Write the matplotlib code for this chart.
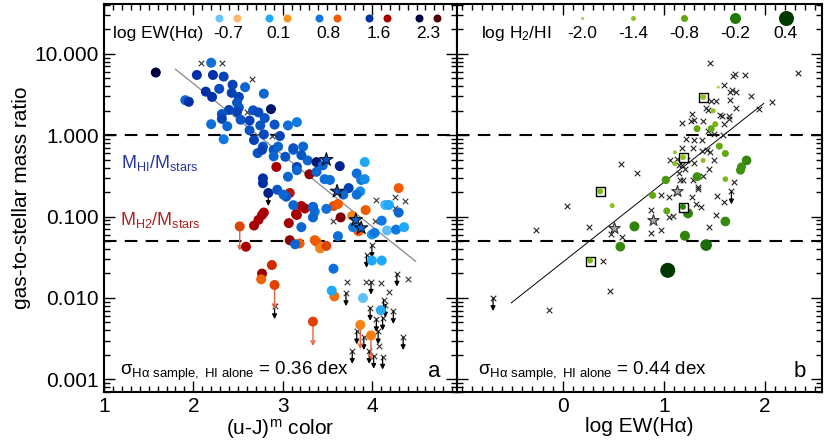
import numpy as np
import matplotlib
matplotlib.use("Agg")
import matplotlib.pyplot as plt
from matplotlib.ticker import FixedLocator, MultipleLocator, LogLocator, NullFormatter

plt.rcParams['font.family'] = ['Liberation Sans', 'DejaVu Sans']
plt.rcParams['mathtext.fontset'] = 'custom'
plt.rcParams['mathtext.rm'] = 'Liberation Sans'
plt.rcParams['mathtext.it'] = 'Liberation Sans:italic'

# ---------------- panel a data: (u-J) colour, log gas/stars, log EW(Ha)
hi_color = [1.58, 2.20, 2.04, 2.22, 2.34, 2.44, 2.58, 2.14, 2.29, 2.21, 2.43, 2.51, 2.79, 1.91, 1.95,
            2.49, 2.51, 2.40, 2.32, 2.49, 2.67, 2.73, 2.87, 2.80, 2.63, 2.53, 2.32, 2.20, 2.38, 2.75,
            2.91, 3.06, 3.16, 2.34, 2.63, 2.68, 2.79, 2.97, 2.78, 2.90, 2.95, 2.72, 2.77, 2.90, 3.03,
            3.12, 3.16, 3.06, 2.78, 2.78, 2.84, 2.94, 3.04, 3.01, 3.34, 3.36,
            3.12, 3.23, 3.21, 3.28, 3.38, 3.45, 3.64, 3.92, 3.83, 3.88, 3.92, 3.16, 3.38, 3.47,
            3.53, 3.74, 3.68, 3.87, 3.83, 4.15, 4.19, 4.30, 4.11, 3.12, 3.34, 3.49, 3.34, 3.79,
            4.17, 4.27, 4.36, 4.00, 4.03, 3.62, 3.21, 4.11, 4.00, 3.14, 3.57, 3.55, 3.90, 4.10]
hi_logr = [0.77, 0.89, 0.74, 0.74, 0.72, 0.62, 0.59, 0.535, 0.57, 0.47, 0.52, 0.47, 0.51, 0.43, 0.41,
           0.40, 0.34, 0.31, 0.26, 0.285, 0.306, 0.28, 0.32, 0.21, 0.18, 0.19, 0.20, 0.135, 0.11, 0.12,
           0.13, 0.12, 0.16, -0.05, 0.06, -0.06, 0.01, -0.01, -0.14, -0.18, -0.14, -0.22, -0.18, -0.26, -0.265,
           -0.18, -0.39, -0.51, -0.53, -0.59, -0.71, -0.67, -0.755, -0.73, -0.88, -0.94,
           -0.16, -0.14, -0.245, -0.31, -0.33, -0.37, -0.38, -0.33, -0.47, -0.55, -0.54, -0.43, -0.45, -0.54,
           -0.55, -0.65, -0.73, -0.69, -0.73, -0.857, -0.857, -0.95, -1.05, -0.86, -0.885, -0.905, -1.01, -1.13,
           -1.17, -1.16, -1.13, -1.22, -1.20, -1.24, -1.13, -1.54, -1.54, -1.34, -1.64, -1.91, -2.00, -2.15]
hi_ew = [2.3, 0.9, 1.6, 1.6, 1.4, 1.4, 1.0, 1.6, 1.3, 1.6, 1.4, 1.4, 1.0, 1.0, 1.6,
         1.2, 1.2, 1.4, 1.2, 1.4, 1.2, 1.3, 2.0, 1.2, 1.4, 1.2, 1.4, 0.9, 1.0, 1.2,
         1.2, 0.9, 0.8, 0.8, 1.2, 1.4, 1.3, 1.4, 1.2, 1.2, 1.0, 1.2, 1.4, 1.0, 1.2,
         1.0, 1.4, 1.0, 1.6, 1.6, 1.8, 1.2, 1.2, 1.0, 1.0, 0.9,
         1.2, 1.0, 1.2, 1.0, 2.0, 1.0, 1.8, 0.1, 0.9, 0.8, 0.5, 1.0, 1.0, 0.9,
         0.9, 1.4, 1.0, 0.5, 0.9, -0.2, 0.1, 1.0, 0.8, 1.0, 1.0, 0.9, 1.0, 0.8,
         -0.5, 0.8, 0.1, 0.3, 0.8, 0.9, 1.0, 0.1, 0.1, 1.0, 0.9, 0.1, -0.6, 0.0]

hi_star_color = [3.49, 3.61, 3.82, 3.88]
hi_star_logr = [-0.30, -0.69, -1.04, -1.14]
hi_star_ew = [1.2, 1.2, 1.0, 1.0]

h2_color = [2.93, 3.08, 3.30, 3.21, 3.25, 3.57, 3.62, 3.16, 3.65, 3.78, 3.93, 3.85, 4.30, 3.38, 3.42,
            3.49, 3.08, 3.19, 2.52, 2.59, 2.68, 2.73, 2.77, 2.79, 2.88, 2.77, 2.76, 2.91, 3.34, 3.07,
            3.15, 3.36, 3.58, 3.87, 3.99]
h2_logr = [-0.39, -0.71, -0.48, -0.87, -0.90, -0.87, -0.845, -0.98, -1.01, -0.99, -0.92, -1.18, -0.65, -1.31, -1.39,
           -1.36, -1.29, -1.33, -1.12, -1.37, -1.11, -1.04, -0.98, -0.95, -1.595, -1.70, -1.77, -1.84, -2.29, -1.08,
           -0.97, -1.29, -1.98, -2.33, -2.46]
h2_ew = [1.6, 1.4, 1.8, 1.6, 1.6, 0.9, 0.8, 1.6, 1.9, 0.3, 0.8, 0.8, 0.8, 0.6, 0.3,
         1.0, 1.8, 0.8, 1.0, 1.6, 1.6, 1.6, 1.6, 1.6, 1.2, 1.7, 0.7, 1.0, 1.0, 1.6,
         1.6, 0.8, 0.6, 0.3, 0.4]
h2_lim = [0, 0, 0, 0, 0, 0, 0, 0, 0, 0, 0, 0, 0, 0, 0,
          0, 0, 0, 1, 0, 0, 0, 0, 0, 0, 0, 0, 1, 1, 0,
          0, 0, 0, 1, 1]

# black crosses without / with upper limits (panel a)
cross_a_color = [2.09, 2.32, 2.66, 4.05, 4.26, 4.37, 4.26, 3.56, 4.04, 3.72, 3.93, 4.10, 4.40, 4.19, 4.08, 2.60, 2.88]
cross_a_logr = [0.89, 0.885, 0.69, -0.80, -0.755, -0.81, -0.90, -1.05, -1.06, -1.80, -1.80, -1.82, -1.77, -1.93, -2.59, 0.28, -0.01]
ul_a_color = [3.94, 3.99, 4.28, 3.71, 4.13, 3.98, 4.05, 4.12, 4.24, 3.83, 3.91, 4.07, 4.35, 3.78, 3.97, 4.12, 4.02, 2.91, 4.00, 4.15]
ul_a_logr = [-1.47, -1.80, -1.70, -1.94, -2.02, -2.12, -2.26, -2.24, -2.16, -2.41, -2.48, -2.41, -2.48, -2.65, -2.65, -2.72, -2.71, -2.10, -1.35, -2.08]
ul_hi_color = [2.84]
ul_hi_logr = [-0.71]

fit_a_color = [1.80, 4.49]
fit_a_logr = [0.81, -1.55]

# ---------------- panel b data: log EW(Ha), log gas/stars
cross_b_ew = [1.46, 1.69, 1.71, 1.80, 2.33, 1.60, 1.66, 1.68, 1.72, 1.86, 1.47, 1.52, 1.66, 1.72, 2.07, 1.94,
              1.42, 1.44, 1.56, 1.58, 1.65, 1.65, 1.28, 1.27, 1.30, 1.39, 1.18, 1.60, 1.44, 1.50, 1.59, 1.22,
              1.30, 1.38, 1.18, 1.29, 1.43, 1.46, 1.38, 1.06, 1.13, 1.50, 1.23, 1.15, 1.18, 1.21, 1.30, 1.45,
              0.58, 0.74, 1.15, 1.39, 1.16, 1.19, 1.29, 1.70, 1.34, 0.04, -0.26, 0.26, 0.48, 0.59, 0.87, 0.97,
              1.05, 1.28, 1.34, 1.53, 1.60, 1.32, 1.37, 1.05, 1.09, 1.52, 1.45, 0.87, 0.97, 0.40, 0.47, -0.14]
cross_b_logr = [0.89, 0.73, 0.75, 0.74, 0.77, 0.62, 0.53, 0.56, 0.53, 0.48, 0.42, 0.42, 0.43, 0.34, 0.41, 0.32,
                0.33, 0.31, 0.245, 0.24, 0.23, 0.20, 0.26, 0.18, 0.19, 0.18, 0.15, 0.135, 0.05, 0.01, 0.0, -0.05,
                -0.06, -0.06, -0.155, -0.155, -0.18, -0.21, -0.20, -0.30, -0.29, -0.30, -0.31, -0.37, -0.37, -0.41, -0.34, -0.42,
                -0.35, -0.46, -0.47, -0.50, -0.55, -0.55, -0.55, -0.58, -0.64, -0.865, -1.17, -1.13, -1.215, -1.245, -0.92, -0.73,
                -0.755, -0.755, -0.665, -0.745, -0.815, -0.85, -0.885, -1.0, -0.99, -0.98, -1.13, -1.20, -1.17, -1.54, -1.92, -2.15]
ul_b_ew = [-0.69, 1.67]
ul_b_logr = [-2.0, -0.69]

co_ew = [1.54, 1.49, 1.51, 1.47, 1.33, 1.55, 1.61, 1.82, 1.77, 1.76, 1.11, 1.39, 1.11, 1.33, 1.61, 1.02,
         0.89, 1.03, 1.24, 1.61, 0.71, 1.21, 1.42, 0.57, 1.04, 0.49]
co_logr = [0.59, 0.30, 0.135, 0.08, 0.08, -0.135, -0.225, -0.31, -0.39, -0.43, -0.21, -0.31, -0.35, -0.51, -0.54, -0.55,
           -0.74, -0.93, -0.96, -1.06, -1.12, -1.235, -1.35, -1.37, -1.66, -0.865]
co_h2hi = [-2.0, -1.4, -1.1, -0.8, -0.8, -0.8, -0.8, -0.4, -0.5, -0.5, -1.7, -1.4, -1.4, -0.5, -1.2, -0.6,
           -0.8, -0.8, -0.35, -0.4, -0.35, -0.35, -0.1, -0.4, 0.4, -1.4]

sq_ew = [1.39, 1.19, 0.37, 1.19, 0.27]
sq_logr = [0.47, -0.27, -0.69, -0.88, -1.54]
sq_h2hi = [-1.4, -1.5, -1.2, -0.3, -1.2]

star_b_ew = [1.13, 0.89, 0.51]
star_b_logr = [-0.69, -1.04, -1.14]

fit_b_ew = [-0.51, 1.99]
fit_b_logr = [-2.06, 0.39]

# legend levels
ew_levels = [-0.7, 0.1, 0.8, 1.6, 2.3]
ew_labels = ['-0.7', '0.1', '0.8', '1.6', '2.3']
blue_cols = ['#6cc4f8', '#20a8f8', '#1078e0', '#0030a8', '#000040']
red_cols = ['#fdb86e', '#f89420', '#f05a00', '#a80000', '#500008']
h2_levels = [-2.0, -1.4, -0.8, -0.2, 0.4]
h2_labels = ['-2.0', '-1.4', '-0.8', '-0.2', '0.4']
green_cols = ['#a8d040', '#8cc020', '#60a810', '#207808', '#003800']
green_diam = [3, 5, 7, 11, 15]   # marker diameters in px


def hex2rgb(h):
    return np.array([int(h[i:i + 2], 16) / 255 for i in (1, 3, 5)])


def interp_col(vals, levels, cols):
    rgb = np.array([hex2rgb(c) for c in cols])
    vals = np.asarray(vals)
    return np.stack([np.interp(vals, levels, rgb[:, k]) for k in range(3)], axis=1)


def px2pt(d):
    return (np.asarray(d) * 72 / 100) ** 2


def setup(ax):
    ax.set_yscale('log')
    ax.set_ylim(0.0007, 40.9)
    ax.tick_params(which='both', direction='in', top=True, right=True, labelsize=15, width=1)
    ax.tick_params(which='major', length=8)
    ax.tick_params(which='minor', length=4)
    ax.yaxis.set_major_locator(FixedLocator([0.001, 0.01, 0.1, 1, 10]))
    ax.yaxis.set_minor_locator(LogLocator(base=10, subs=np.arange(2, 10)))
    ax.yaxis.set_minor_formatter(NullFormatter())
    ax.xaxis.set_minor_locator(MultipleLocator(0.1))
    for s in ax.spines.values():
        s.set_linewidth(1.5)
    ax.axhline(1.0, color='k', ls=(0, (6, 4)), lw=1.5, zorder=1)
    ax.axhline(0.05, color='k', ls=(0, (6, 4)), lw=1.5, zorder=1)


def arrow(ax, x, y, dex, color, style, lw=0.9):
    ax.annotate('', xy=(x, y * 10 ** (-dex)), xytext=(x, y),
                arrowprops=dict(arrowstyle=style, color=color, lw=lw, shrinkA=0, shrinkB=0,
                                mutation_scale=7), zorder=4)


fig = plt.figure(figsize=(8.3, 4.47), dpi=100)
ax1 = fig.add_axes([104 / 830, 1 - 392 / 447, 353 / 830, 388 / 447])
ax2 = fig.add_axes([457 / 830, 1 - 392 / 447, 365 / 830, 388 / 447])

# ---------------- panel a
setup(ax1)
ax1.set_xlim(1, 4.953)
ax1.xaxis.set_major_locator(FixedLocator([1, 2, 3, 4]))
ax1.set_yticklabels(['0.001', '0.010', '0.100', '1.000', '10.000'])
ax1.set_xlabel('(u-J)$^{\\mathregular{m}}$ color', fontsize=15, labelpad=1)
ax1.set_ylabel('gas-to-stellar mass ratio', fontsize=15, labelpad=3)

ax1.plot(fit_a_color, 10 ** np.array(fit_a_logr), color='#888888', lw=0.9, zorder=2)

for x, ly in zip(ul_a_color, ul_a_logr):
    arrow(ax1, x, 10 ** ly, 0.16, 'k', '-|>')
ax1.scatter(ul_a_color + cross_a_color, 10 ** np.array(ul_a_logr + cross_a_logr),
            marker='x', s=16, c='#333333', lw=0.8, zorder=3)

for x, ly, lim in zip(h2_color, h2_logr, h2_lim):
    if lim:
        arrow(ax1, x, 10 ** ly, 0.3, '#e8603a', '->', lw=1.0)

ax1.scatter(h2_color, 10 ** np.array(h2_logr), s=px2pt(10), c=interp_col(h2_ew, ew_levels, red_cols),
            lw=0, zorder=5)
ax1.scatter(hi_color, 10 ** np.array(hi_logr), s=px2pt(10), c=interp_col(hi_ew, ew_levels, blue_cols),
            lw=0, zorder=5)
ax1.scatter(hi_star_color, 10 ** np.array(hi_star_logr), s=px2pt(14), marker='*',
            c=interp_col(hi_star_ew, ew_levels, blue_cols), edgecolors='k', lw=0.7, zorder=6)
for x, ly in zip(ul_hi_color, ul_hi_logr):
    arrow(ax1, x, 10 ** ly, 0.16, 'k', '-|>')

# legend a
ta = ax1.transAxes
ax1.text(0.025, 0.925, 'log EW(H\u03b1)', transform=ta, fontsize=12.5, va='center', ha='left')
xs = [0.351, 0.494, 0.635, 0.777, 0.918]
for xc, lab, bc, rc in zip(xs, ew_labels, blue_cols, red_cols):
    ax1.scatter([xc - 0.0255], [0.963], s=px2pt(8), c=[bc], lw=0, transform=ta, clip_on=False)
    ax1.scatter([xc + 0.0255], [0.963], s=px2pt(8), c=[rc], lw=0, transform=ta, clip_on=False)
    ax1.text(xc, 0.925, lab, transform=ta, fontsize=12.5, va='center', ha='center')

ax1.text(0.048, 0.59, '$\\mathregular{M_{HI}/M_{stars}}$', transform=ta, fontsize=13,
         color='#2a36a0', va='center')
ax1.text(0.045, 0.443, '$\\mathregular{M_{H2}/M_{stars}}$', transform=ta, fontsize=13,
         color='#b02020', va='center')
ax1.text(0.045, 0.052, '$\\mathregular{\u03c3_{H\u03b1\\ sample,\\ HI\\ alone}}$ = 0.36 dex',
         transform=ta, fontsize=13.5, va='center')
ax1.text(0.935, 0.052, 'a', transform=ta, fontsize=16, va='center', ha='center')

# ---------------- panel b
setup(ax2)
ax2.set_xlim(-1.047, 2.567)
ax2.xaxis.set_major_locator(FixedLocator([0, 1, 2]))
ax2.set_yticklabels([])
ax2.set_xlabel('log EW(H\u03b1)', fontsize=15, labelpad=1)

ax2.plot(fit_b_ew, 10 ** np.array(fit_b_logr), color='k', lw=0.7, zorder=2)
for x, ly in zip(ul_b_ew, ul_b_logr):
    arrow(ax2, x, 10 ** ly, 0.16, 'k', '-|>')
ax2.scatter(cross_b_ew + ul_b_ew, 10 ** np.array(cross_b_logr + ul_b_logr),
            marker='x', s=16, c='#222222', lw=0.8, zorder=3)
ax2.scatter(star_b_ew, 10 ** np.array(star_b_logr), marker='*', s=px2pt(12),
            facecolors='#aaaaaa', edgecolors='#333333', lw=0.8, zorder=4)
ax2.scatter(co_ew, 10 ** np.array(co_logr), s=px2pt(np.interp(co_h2hi, h2_levels, green_diam)),
            c=interp_col(co_h2hi, h2_levels, green_cols), lw=0, zorder=5)
ax2.scatter(sq_ew, 10 ** np.array(sq_logr), marker='s', s=px2pt(9), facecolors='white',
            edgecolors='k', lw=1.0, zorder=5)
ax2.scatter(sq_ew, 10 ** np.array(sq_logr), s=px2pt(6), c=interp_col(sq_h2hi, h2_levels, green_cols),
            lw=0, zorder=6)

tb = ax2.transAxes
ax2.text(0.066, 0.925, 'log H$_\\mathregular{2}$/HI', transform=tb, fontsize=12.5, va='center', ha='left')
xs_b = [0.343, 0.483, 0.622, 0.761, 0.900]
for xc, lab, gc, d in zip(xs_b, h2_labels, green_cols, green_diam):
    ax2.scatter([xc], [0.963], s=px2pt(d), c=[gc], lw=0, transform=tb, clip_on=False)
    ax2.text(xc, 0.925, lab, transform=tb, fontsize=12.5, va='center', ha='center')

ax2.text(0.058, 0.052, '$\\mathregular{\u03c3_{H\u03b1\\ sample,\\ HI\\ alone}}$ = 0.44 dex',
         transform=tb, fontsize=13.5, va='center')
ax2.text(0.94, 0.052, 'b', transform=tb, fontsize=16, va='center', ha='center')

fig.savefig('out.png', dpi=100)
